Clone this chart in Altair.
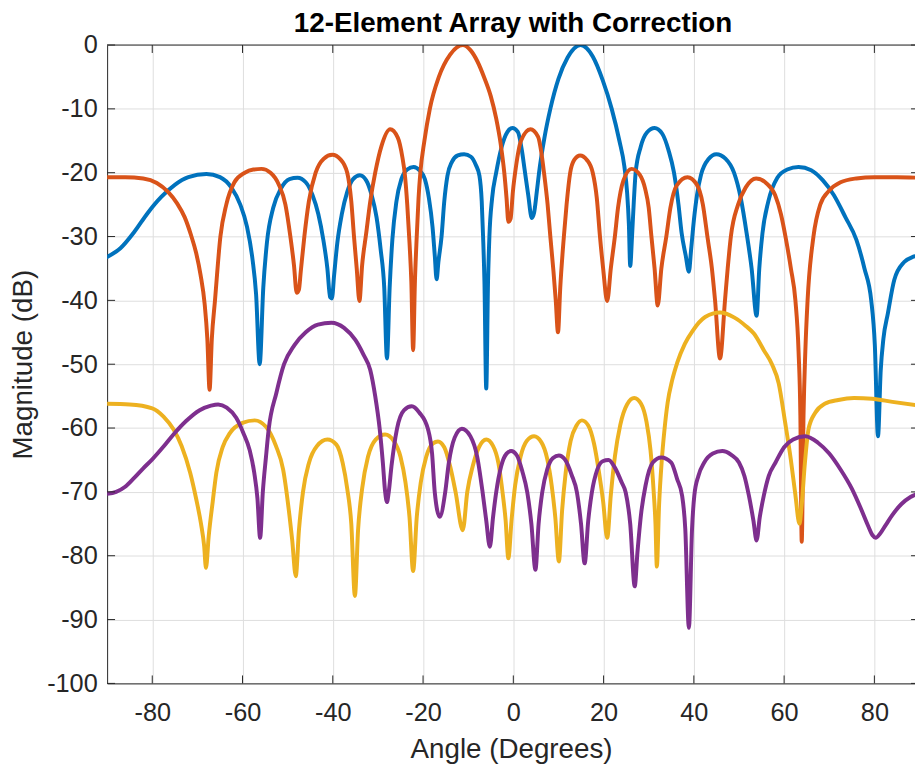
import altair as alt
import pandas as pd

# ---- values ----
TITLE = "12-Element Array with Correction"
X_TITLE = "Angle (Degrees)"
Y_TITLE = "Magnitude (dB)"

BLUE_ANG = [-90, -87, -84, -81, -78, -75, -72, -68, -65, -62.5, -60.5, -59, -57.8, -57.0, -56.2, -55.4, -54.6, -53.2, -51.5, -49.6,
            -47.8, -46.0, -44.5, -43.2, -42.1, -41.2, -40.6, -40.2, -39.7, -39.0, -38.0, -36.8, -35.5, -34.0, -32.6, -31.4,
            -30.3, -29.4, -28.6, -28.0, -27.4, -26.8, -25.9, -24.8, -23.5, -22.1, -20.7, -19.6, -18.7, -17.9, -17.4, -17.0,
            -16.6, -15.9, -15.3, -14.6, -13.6, -12.3, -10.9, -9.4, -8.3, -7.5, -7.0, -6.7, -6.4, -6.0, -5.6, -5.3, -4.7, -3.8,
            -2.6, -1.3, -0.2, 1.0, 1.9, 2.5, 3.3, 4.1, 4.6, 5.2, 5.7, 6.9, 8.2, 10.0, 12.0, 14.9, 17.6, 19.8, 21.8, 23.5, 24.6,
            25.2, 25.6, 25.9, 26.3, 26.7, 27.1, 28.2, 29.6, 31.3, 33.0, 34.4, 35.6, 36.6, 37.3, 38.2, 38.9, 39.4, 40.0, 40.7,
            41.6, 43.2, 45.0, 47.0, 48.9, 50.4, 51.7, 52.8, 53.9, 54.5, 55.2, 56.5, 58.5, 60.7, 63.2, 66.0, 68.6, 71.0, 73.6,
            76.0, 77.8, 79.3, 80.1, 80.8, 81.4, 82.0, 83.0, 84.4, 86.6, 88.5, 90.0]
BLUE_DB = [-33.2, -31.8, -29.3, -26.3, -23.8, -21.9, -20.7, -20.2, -20.7, -22.3, -25.0, -28.5, -33.5, -39.0, -50.0, -38.0, -31.0, -25.5, -22.5, -21.0,
           -20.8, -21.5, -23.5, -26.5, -30.5, -35.0, -39.5, -39.7, -36.0, -31.0, -26.5, -23.0, -21.0, -20.4, -21.2, -23.5,
           -27.0, -32.0, -38.0, -49.1, -38.0, -30.5, -24.5, -21.0, -19.5, -19.1, -19.7, -21.0, -24.0, -28.5, -33.0, -36.7,
           -34.0, -30.0, -24.5, -20.5, -18.3, -17.3, -17.1, -17.5, -18.8, -20.5, -24.5, -30.0, -37.0, -53.8, -37.0, -30.0, -24.0, -20.0,
           -16.0, -13.6, -13.0, -13.6, -16.5, -19.5, -23.5, -27.1, -26.3, -23.0, -20.0, -14.5, -10.0, -5.3, -2.0, 0.0, -1.8, -5.5, -10.0, -15.0, -19.0,
           -23.0, -28.0, -34.6, -30.0, -24.5, -20.0, -16.0, -13.7, -13.0, -13.9, -16.5, -20.0, -25.0, -29.5, -33.0, -35.5, -32.0, -27.5, -23.5,
           -20.3, -17.9, -17.1, -17.8, -20.0, -24.0, -29.5, -35.0, -42.4, -35.0, -29.5, -24.5, -20.8, -19.5, -19.1, -19.6, -21.2, -23.5, -27.0,
           -30.5, -35.0, -40.0, -47.0, -61.3, -51.0, -46.0, -42.0, -36.8, -34.0, -33.2, -33.0]

ORANGE_ANG = [-90, -86, -82, -79, -76.5, -74.5, -72.8, -71.4, -70.3, -69.3, -68.4, -67.8, -67.3, -66.8, -66.1, -64.9, -63.6, -61.8,
              -59.5, -57.6, -55.8, -53.8, -52.0, -50.5, -49.4, -48.6, -48.0, -47.5, -47.1, -46.3, -45.3, -43.8, -42.0, -40.1,
              -38.3, -36.8, -35.9, -35.3, -34.7, -34.1, -33.5, -32.6, -31.7, -30.6, -29.2, -27.3, -25.6, -24.6, -24.0, -23.5,
              -23.0, -22.6, -22.2, -21.8, -21.4, -21.0, -20.6, -19.7, -18.5, -16.5, -14.0, -11.2, -9.5, -8.0, -6.5, -5.0, -3.8,
              -2.8, -2.0, -1.5, -1.1, -0.6, -0.1, 0.6, 1.7, 3.8, 5.5, 6.2, 6.8, 7.6, 8.2, 8.9, 9.4, 9.9, 10.4, 11.2, 11.8, 12.6,
              13.5, 14.8, 16.3, 17.6, 18.5, 19.2, 19.9, 20.8, 21.6, 22.5, 23.2, 24.4, 26.2, 28.0, 29.2, 30.0, 30.6, 31.3, 32.0,
              32.8, 33.9, 34.8, 36.2, 38.6, 40.6, 42.0, 43.0, 44.0, 44.7, 45.8, 46.9, 47.5, 48.2, 49.8, 51.5, 53.8, 56.0, 58.0,
              59.3, 60.3, 61.5, 62.5, 63.2, 63.6, 63.9, 64.3, 64.7, 65.2, 66.5, 68.0, 70.0, 72.5, 76.0, 80.0, 85.0, 90.0]
ORANGE_DB = [-20.7, -20.7, -20.9, -21.6, -23.0, -24.8, -27.0, -29.8, -32.5, -36.0, -40.5, -46.0, -54.0, -46.0, -40.0, -30.0, -25.0, -21.5,
             -20.0, -19.5, -19.4, -20.0, -21.8, -25.0, -30.0, -34.5, -38.8, -38.3, -35.5, -30.0, -24.5, -20.0, -17.8, -17.2,
             -17.9, -20.0, -24.5, -30.0, -35.0, -40.1, -34.5, -29.5, -24.5, -20.0, -15.8, -13.2, -14.5, -17.5, -20.5, -25.0,
             -31.0, -37.0, -47.8, -37.0, -30.0, -24.0, -20.0, -15.0, -10.0, -5.0, -1.5, 0.0, -0.8, -2.5, -5.0, -8.0, -11.5,
             -15.5, -20.0, -24.0, -27.7, -27.2, -23.0, -19.0, -15.0, -13.2, -14.4, -16.8, -20.0, -25.0, -30.0, -35.5, -40.0, -45.0, -38.0, -30.0, -25.0, -20.0,
             -18.0, -17.3, -18.0, -20.0, -24.0, -30.0, -35.0, -40.1, -35.0, -30.0, -25.5, -21.2, -19.4, -20.3, -22.5, -25.5, -30.0, -35.0, -40.8,
             -35.0, -30.0, -25.5, -22.0, -20.7, -21.8, -25.0, -30.0, -35.0, -40.0, -49.1, -40.0, -35.0, -30.0, -25.0, -22.3, -20.9, -21.6, -23.5,
             -26.5, -30.0, -35.0, -40.0, -48.0, -58.0, -77.8, -58.0, -48.0, -40.0, -30.0, -25.0, -22.8, -21.5, -20.9, -20.7, -20.7, -20.8]

YELLOW_ANG = [-90, -85, -80, -77.5, -75.3, -73.5, -71.6, -70.3, -69.2, -68.5, -68.1, -67.5, -66.6, -65.8, -64.4, -62.8, -60.0, -57.3,
              -54.8, -52.6, -51.0, -49.6, -49.0, -48.2, -47.5, -46.6, -45.3, -43.5, -41.2, -39.2, -37.8, -36.8, -35.9, -35.1,
              -34.4, -33.5, -32.2, -30.5, -28.4, -26.5, -25.0, -23.9, -23.0, -22.2, -21.4, -20.5, -19.3, -17.8, -16.7, -15.3,
              -14.0, -12.8, -11.2, -10.2, -9.0, -7.6, -6.0, -4.5, -3.3, -2.4, -1.7, -1.1, -0.4, 0.4, 1.6, 3.0, 4.6, 6.2, 7.5, 8.5,
              9.3, 10.1, 10.8, 11.6, 12.7, 14.0, 15.2, 16.6, 17.9, 19.0, 19.9, 20.8, 21.6, 22.5, 23.7, 25.2, 26.8, 28.3, 29.5,
              30.4, 31.1, 31.5, 31.8, 32.3, 32.9, 33.5, 34.2, 35.2, 36.3, 38.0, 39.7, 42.5, 45.8, 49.0, 51.5, 53.3, 55.5, 57.3,
              58.8, 60.2, 61.5, 62.5, 63.4, 63.9, 64.6, 65.4, 66.9, 69.0, 72.0, 75.5, 79.5, 84.0, 90.0]
YELLOW_DB = [-56.2, -56.3, -56.9, -58.2, -60.2, -62.8, -67.0, -71.0, -75.0, -78.5, -81.9, -77.0, -71.5, -67.0, -63.0, -60.8, -59.2, -58.8,
             -59.8, -62.8, -66.5, -73.7, -77.5, -83.2, -76.0, -70.0, -65.5, -62.8, -61.8, -62.6, -65.5, -69.5, -75.0, -86.3,
             -76.0, -69.5, -64.5, -61.8, -61.0, -62.0, -64.5, -68.5, -74.0, -82.4, -74.0, -68.5, -64.5, -62.4, -62.1, -63.0,
             -66.0, -70.0, -76.0, -70.0, -66.0, -63.0, -61.8, -62.8, -65.5, -70.0, -74.5, -80.4, -74.5, -69.0, -64.5, -62.0, -61.3, -62.2, -64.8, -69.0,
             -74.0, -80.9, -73.0, -67.0, -62.0, -59.6, -58.8, -59.6, -62.5, -67.0, -71.5, -77.2, -70.5, -64.5, -59.5, -56.3, -55.3, -56.2, -59.0,
             -63.5, -70.0, -75.0, -81.7, -72.0, -65.0, -60.2, -56.0, -52.5, -49.8, -46.8, -44.8, -42.6, -41.9, -42.7, -44.0, -45.2, -47.8, -50.0,
             -53.0, -59.0, -65.0, -70.5, -75.0, -72.0, -65.5, -60.2, -57.6, -56.2, -55.6, -55.3, -55.4, -55.9, -56.5]

PURPLE_ANG = [-90, -88, -86, -84, -82, -80, -77.5, -75.3, -72.5, -69.5, -67.0, -65.4, -63.5, -61.4, -59.8, -58.4, -57.4, -56.7,
              -56.1, -55.5, -54.8, -54.2, -52.5, -50.8, -48.5, -46.0, -43.3, -40.3, -37.5, -35.0, -33.2, -31.7, -30.6, -29.6,
              -28.9, -28.4, -28.0, -27.6, -27.0, -25.8, -24.2, -22.5, -20.8, -18.9, -18.0, -17.4, -16.3, -15.1, -14.3, -13.0,
              -11.4, -9.5, -8.0, -6.8, -6.0, -5.2, -4.5, -3.8, -2.7, -1.5, -0.5, 0.8, 2.0, 3.1, 4.0, 4.9, 5.6, 6.4, 7.5, 8.8,
              10.1, 11.5, 12.9, 14.1, 15.0, 15.8, 16.6, 17.4, 18.6, 19.8, 21.1, 22.5, 24.0, 24.9, 25.9, 26.9, 27.5, 28.3, 29.3,
              30.9, 32.8, 35.0, 36.3, 37.4, 38.1, 38.9, 39.6, 40.1, 41.0, 42.3, 44.2, 46.3, 48.3, 50.0, 51.2, 52.2, 53.2, 53.9,
              54.6, 55.5, 56.6, 58.1, 60.0, 62.0, 64.7, 67.5, 70.0, 72.5, 75.0, 77.0, 78.6, 79.6, 80.3, 81.2, 82.5, 84.0, 86.0,
              88.0, 90.0]
PURPLE_DB = [-70.3, -70.0, -69.2, -67.8, -66.3, -64.9, -62.9, -61.0, -58.9, -57.2, -56.5, -56.3, -56.8, -58.4, -60.8, -63.5, -67.0, -71.0,
             -77.2, -70.0, -64.5, -60.2, -54.5, -50.0, -47.0, -45.0, -43.8, -43.5, -44.3, -46.2, -48.5, -50.9, -55.0, -60.2,
             -65.5, -70.0, -71.6, -70.0, -66.0, -60.2, -57.2, -56.6, -57.6, -60.2, -64.0, -70.1, -73.9, -70.1, -65.5, -61.5,
             -60.1, -61.3, -64.5, -70.1, -74.5, -78.6, -74.0, -70.1, -66.0, -64.0, -63.6, -64.3, -66.8, -70.1, -75.0, -82.2, -75.0, -70.1, -66.5, -64.7,
             -64.3, -65.0, -67.3, -70.1, -75.0, -81.2, -74.5, -70.1, -66.5, -65.2, -65.0, -66.2, -68.5, -70.1, -75.0, -84.8, -79.5, -73.5, -69.0,
             -65.4, -64.6, -65.4, -68.0, -70.6, -75.8, -91.3, -75.8, -70.6, -67.5, -65.4, -64.0, -63.6, -64.2, -65.4, -67.5, -70.6, -74.5, -77.6,
             -74.0, -70.6, -67.5, -65.4, -63.0, -61.8, -61.3, -62.3, -64.0, -66.5, -69.5, -72.6, -75.3, -76.8, -77.2, -76.6, -75.2, -73.6, -71.9,
             -70.8, -70.2]

SERIES = [
    ("blue", BLUE_ANG, BLUE_DB, "#0072BD"),
    ("orange", ORANGE_ANG, ORANGE_DB, "#D95319"),
    ("yellow", YELLOW_ANG, YELLOW_DB, "#EDB120"),
    ("purple", PURPLE_ANG, PURPLE_DB, "#7E2F8E"),
]

X_TICKS = [-80, -60, -40, -20, 0, 20, 40, 60, 80]
Y_TICKS = [-100, -90, -80, -70, -60, -50, -40, -30, -20, -10, 0]
X_DOMAIN = [-90, 89.0]
Y_DOMAIN = [-100, 0]

W = 815
H = 644
AX = "#262626"
FONT = "Liberation Sans"

x_enc = alt.X("angle:Q", scale=alt.Scale(domain=X_DOMAIN, nice=False, zero=False),
              axis=alt.Axis(values=X_TICKS, title=X_TITLE, ticks=False, labelPadding=17,
                            titlePadding=10, grid=True, labelExpr="'' + datum.value"))
y_enc = alt.Y("mag:Q", scale=alt.Scale(domain=Y_DOMAIN, nice=False, zero=False),
              axis=alt.Axis(values=Y_TICKS, title=Y_TITLE, ticks=False, labelPadding=10,
                            titlePadding=9, grid=True, labelExpr="'' + datum.value"))

layers = []
for name, ang, db, col in SERIES:
    df = pd.DataFrame({"angle": ang, "mag": db})
    layers.append(
        alt.Chart(df).mark_line(color=col, strokeWidth=4, interpolate="monotone", clip=True,
                                strokeJoin="round", strokeCap="round")
        .encode(x=x_enc, y=y_enc)
    )

xt = pd.DataFrame({"angle": X_TICKS})
yt = pd.DataFrame({"mag": Y_TICKS})
tick_top = alt.Chart(xt).mark_rule(color=AX, strokeWidth=1).encode(x=x_enc, y=alt.value(0), y2=alt.value(8))
tick_bot = alt.Chart(xt).mark_rule(color=AX, strokeWidth=1).encode(x=x_enc, y=alt.value(H), y2=alt.value(H - 8))
tick_left = alt.Chart(yt).mark_rule(color=AX, strokeWidth=1).encode(y=y_enc, x=alt.value(0), x2=alt.value(8))
tick_right = alt.Chart(yt).mark_rule(color=AX, strokeWidth=1).encode(y=y_enc, x=alt.value(W - 4), x2=alt.value(W))
top_border = alt.Chart(pd.DataFrame({"k": [0]})).mark_rule(color=AX, strokeWidth=1).encode(
    x=alt.value(0), x2=alt.value(W), y=alt.value(0))
title_mark = alt.Chart(pd.DataFrame({"t": [TITLE]})).mark_text(
    font=FONT, fontSize=28, fontWeight="bold", color="#000000", align="center", baseline="alphabetic"
).encode(text="t:N", x=alt.value(409.5), y=alt.value(-13))

chart = alt.layer(*layers, tick_top, tick_bot, tick_left, tick_right, top_border, title_mark).properties(
    width=W, height=H,
    autosize=alt.AutoSizeParams(type="none"),
    padding={"left": 100, "top": 34, "right": 0, "bottom": 82},
).configure_view(stroke=None).configure_axis(
    labelFont=FONT, titleFont=FONT, labelFontSize=25.5, titleFontSize=28, labelColor=AX, titleColor=AX,
    titleFontWeight="normal", domainColor=AX, domainWidth=1, gridColor="#dedede", gridWidth=1,
)

chart.save("out.html", embed_options={"renderer": "svg", "actions": False})
